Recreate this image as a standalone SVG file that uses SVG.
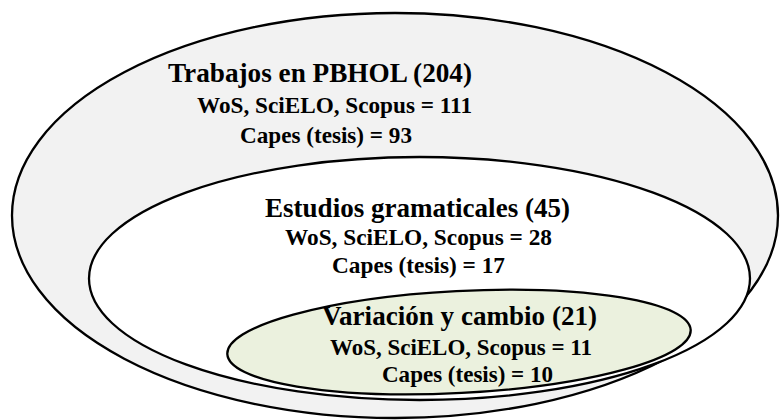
<svg xmlns="http://www.w3.org/2000/svg" width="781" height="420" viewBox="0 0 781 420">
<style>
.shape{stroke:#000;stroke-width:2.3}
text{font-family:"Liberation Serif","Times New Roman",serif;font-weight:bold;fill:#000}
.h{font-size:28px}
.s{font-size:23px}
</style>
<rect width="781" height="420" fill="#fff"/>
<g id="outer">
<ellipse class="shape" cx="395" cy="215.5" rx="383" ry="202.5" fill="#f2f2f2"/>
<text class="h" x="168" y="82" textLength="304" lengthAdjust="spacingAndGlyphs">Trabajos en PBHOL (204)</text>
<text class="s" x="197" y="113" textLength="275" lengthAdjust="spacingAndGlyphs">WoS, SciELO, Scopus = 111</text>
<text class="s" x="240" y="143" textLength="172" lengthAdjust="spacingAndGlyphs">Capes (tesis) = 93</text>
</g>
<g id="middle">
<ellipse class="shape" cx="419.5" cy="278.5" rx="330.5" ry="121.5" fill="#fff"/>
<text class="h" x="265" y="217" textLength="305" lengthAdjust="spacingAndGlyphs">Estudios gramaticales (45)</text>
<text class="s" x="285" y="245" textLength="267" lengthAdjust="spacingAndGlyphs">WoS, SciELO, Scopus = 28</text>
<text class="s" x="332" y="273" textLength="173" lengthAdjust="spacingAndGlyphs">Capes (tesis) = 17</text>
</g>
<g id="inner">
<ellipse class="shape" cx="459" cy="342" rx="232" ry="51" fill="#ebf1de" transform="rotate(-3 459 342)"/>
<text class="h" x="322" y="325" textLength="275" lengthAdjust="spacingAndGlyphs">Variación y cambio (21)</text>
<text class="s" x="330" y="355" textLength="262" lengthAdjust="spacingAndGlyphs">WoS, SciELO, Scopus = 11</text>
<text class="s" x="382" y="382" textLength="171" lengthAdjust="spacingAndGlyphs">Capes (tesis) = 10</text>
</g>
<g id="connectors"/>
</svg>
